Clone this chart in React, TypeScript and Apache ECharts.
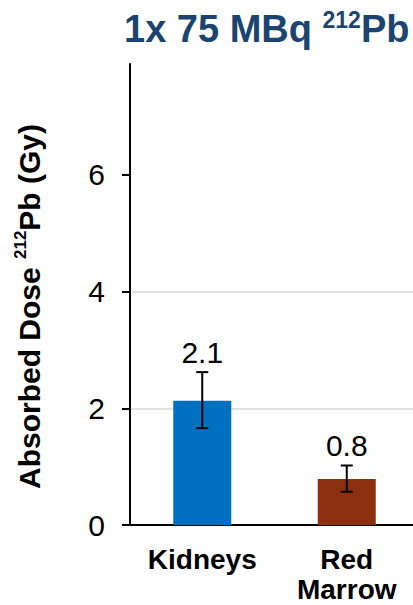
import React, { useEffect, useRef } from "react";
import * as echarts from "echarts";

const categories = ["Kidneys", "Red\nMarrow"];
const doseValues = [2.13, 0.79];
const errorLow = [1.66, 0.57];
const errorHigh = [2.62, 1.02];
const barColors = ["#0070C0", "#8C300F"];
const yTicks = [0, 2, 4, 6];

const FONT = "'Liberation Sans', Arial, Helvetica, sans-serif";
const TITLE_COLOR = "#1B4470";

export default function App() {
  const ref = useRef<HTMLDivElement>(null);

  useEffect(() => {
    if (!ref.current) return;
    const chart = echarts.init(ref.current, null, { renderer: "svg" });
    chart.setOption({
      animation: false,
      title: {
        text: "{t|1x 75 MBq }{s|212}{t|Pb}",
        left: 119,
        top: 3,
        textStyle: {
          rich: {
            t: { fontSize: 38, fontWeight: "bold", color: TITLE_COLOR, fontFamily: FONT, lineHeight: 42 },
            s: { fontSize: 23, fontWeight: "bold", color: TITLE_COLOR, fontFamily: FONT, verticalAlign: "top", lineHeight: 42, padding: [0, 0, 8, 0] },
          },
        },
      },
      grid: { left: 130, width: 289, top: 64, height: 461, outerBoundsMode: "none", containLabel: false },
      xAxis: {
        type: "category",
        data: categories,
        axisLine: { lineStyle: { color: "#000", width: 2 } },
        axisTick: { length: 8, lineStyle: { color: "#000", width: 2 } },
        axisLabel: {
          interval: 0,
          fontSize: 28,
          fontWeight: "bold",
          color: "#000",
          fontFamily: FONT,
          margin: 20,
          lineHeight: 29.5,
        },
      },
      yAxis: {
        type: "value",
        min: 0,
        max: 7.9,
        interval: 2,
        name: "{a|Absorbed Dose }{s|212}{a|Pb (Gy)}",
        nameLocation: "middle",
        nameGap: 84,
        nameTextStyle: {
          padding: [0, 24, 0, 0],
          rich: {
            a: { fontSize: 30, fontWeight: "bold", color: "#000", fontFamily: FONT, lineHeight: 34 },
            s: { fontSize: 17, fontWeight: "bold", color: "#000", fontFamily: FONT, verticalAlign: "top", lineHeight: 34, padding: [0, 0, 6, 0] },
          },
        },
        axisLine: { show: true, lineStyle: { color: "#000", width: 2 } },
        axisTick: { show: true, length: 8, customValues: yTicks, lineStyle: { color: "#000", width: 2 } },
        axisLabel: {
          customValues: yTicks,
          formatter: (v: number) => (v % 2 === 0 ? String(v) : ""),
          fontSize: 30,
          color: "#000",
          fontFamily: FONT,
          margin: 25,
        },
        splitLine: {
          show: true,
          showMinLine: false,
          showMaxLine: false,
          lineStyle: { color: "#D9D9D9", width: 1.5 },
        },
      },
      series: [
        {
          type: "bar",
          barWidth: 58,
          data: doseValues.map((v, i) => ({ value: v, itemStyle: { color: barColors[i] } })),
        },
        {
          type: "custom",
          data: categories.map((_, i) => [i, errorLow[i], errorHigh[i], doseValues[i]]),
          z: 10,
          renderItem: (_params: any, api: any) => {
            const idx = api.value(0);
            const lo = api.coord([idx, api.value(1)]);
            const hi = api.coord([idx, api.value(2)]);
            const cap = 6;
            const st = { stroke: "#000", lineWidth: 2 };
            return {
              type: "group",
              children: [
                { type: "line", shape: { x1: lo[0], y1: lo[1], x2: hi[0], y2: hi[1] }, style: st },
                { type: "line", shape: { x1: lo[0] - cap, y1: lo[1], x2: lo[0] + cap, y2: lo[1] }, style: st },
                { type: "line", shape: { x1: hi[0] - cap, y1: hi[1], x2: hi[0] + cap, y2: hi[1] }, style: st },
                {
                  type: "text",
                  x: hi[0],
                  y: hi[1] - 5,
                  style: {
                    text: Number(api.value(3)).toFixed(1),
                    fontSize: 30,
                    fontFamily: FONT,
                    fill: "#000",
                    align: "center",
                    verticalAlign: "bottom",
                  },
                },
              ],
            };
          },
        },
      ],
    });
    return () => chart.dispose();
  }, []);

  return (
    <div
      ref={ref}
      style={{ position: "absolute", left: 0, top: 0, width: 413, height: 605 }}
    />
  );
}
